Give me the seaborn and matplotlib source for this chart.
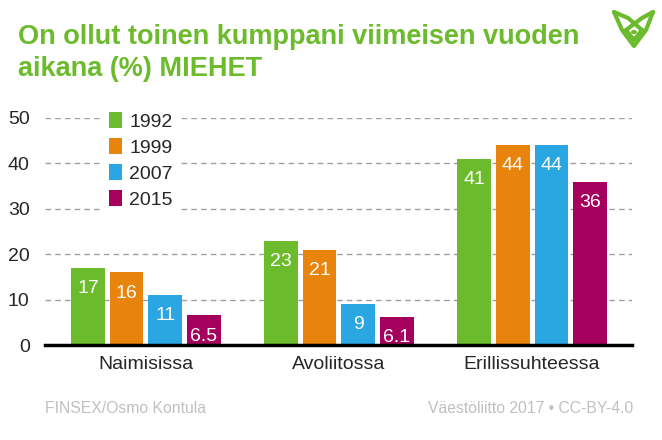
import numpy as np
import pandas as pd
import matplotlib
matplotlib.use("Agg")
import matplotlib.pyplot as plt
from matplotlib.lines import Line2D
from matplotlib.patches import Circle
import seaborn as sns

# data
ryhmat = ["Naimisissa", "Avoliitossa", "Erillissuhteessa"]
vuodet = ["1992", "1999", "2007", "2015"]
arvot_1992 = [17, 23, 41]
arvot_1999 = [16, 21, 44]
arvot_2007 = [11, 9, 44]
arvot_2015 = [6.5, 6.1, 36]
varit = ["#6CBB2D", "#E8830B", "#2AA6E3", "#A5005E"]
vihrea = "#6CBB2D"

df = pd.DataFrame({
    "ryhma": ryhmat * 4,
    "vuosi": sum([[v] * 3 for v in vuodet], []),
    "arvo": arvot_1992 + arvot_1999 + arvot_2007 + arvot_2015,
})

sns.set_style("white")
plt.rcParams["font.family"] = ["Liberation Sans", "DejaVu Sans"]

fig = plt.figure(figsize=(6.62, 4.40), dpi=100)
ax = fig.add_axes([45/662, 1-345/440, (632-45)/662, (345-118)/440])

sns.barplot(data=df, x="ryhma", y="arvo", hue="vuosi", hue_order=vuodet,
            palette=varit, width=0.8, gap=0.13, saturation=1, ax=ax,
            edgecolor="none", linewidth=0, zorder=3)

for cont in ax.containers:
    labs = [f"{b.get_height():g}" for b in cont]
    ax.bar_label(cont, labels=labs, label_type="edge", padding=-21,
                 color="white", fontsize=14)

ax.set_ylim(0, 50)
ax.set_xlim(-0.523, 2.518)
ax.set_yticks([0, 10, 20, 30, 40, 50])
ax.yaxis.grid(True, linestyle=(0, (4, 3)), color="#A0A0A0", linewidth=1)
ax.set_axisbelow(True)
for s in ["top", "right", "left"]:
    ax.spines[s].set_visible(False)
ax.spines["bottom"].set_linewidth(2.5)
ax.spines["bottom"].set_color("black")
ax.spines["bottom"].set_zorder(5)
ax.tick_params(axis="y", length=0, labelsize=14, pad=11)
ax.tick_params(axis="x", length=0, labelsize=14, pad=8)
ax.set_xlabel("")
ax.set_ylabel("")

leg = ax.legend(loc="upper left", bbox_to_anchor=(58/587, 1.05), frameon=True,
                fontsize=14, handlelength=0.7, handleheight=0.85,
                handletextpad=0.35, labelspacing=0.38, borderpad=0.3,
                borderaxespad=0)
leg.get_frame().set_facecolor("white")
leg.get_frame().set_edgecolor("none")
leg.get_frame().set_alpha(1)
leg.set_zorder(6)

fig.text(18/662, 1-44/440, "On ollut toinen kumppani viimeisen vuoden",
         color=vihrea, fontsize=19.5, fontweight="bold", va="baseline", ha="left")
fig.text(18/662, 1-76/440, "aikana (%) MIEHET",
         color=vihrea, fontsize=19.5, fontweight="bold", va="baseline", ha="left")

fig.text(45/662, 1-408/440, "FINSEX/Osmo Kontula", color="#C0C0C0",
         fontsize=11.3, va="center", ha="left")
fig.text(633/662, 1-408/440, "Väestöliitto 2017 \u2022 CC-BY-4.0", color="#C0C0C0",
         fontsize=11.3, va="center", ha="right")

# logo
def px(x, y):
    return x/662, 1-y/440
lw = 3
for pts in [[(614, 12), (622, 30), (634, 46), (646, 30), (653, 12)],
            [(614, 12), (628, 18), (642, 30)],
            [(653, 12), (642, 18), (626, 30)],
            [(626, 30), (634, 40), (642, 30)]]:
    xs, ys = zip(*[px(a, b) for a, b in pts])
    fig.add_artist(Line2D(xs, ys, color=vihrea, lw=lw, solid_capstyle="round",
                          solid_joinstyle="round"))
cx, cy = px(634, 32)
fig.add_artist(Circle((cx, cy), 2.2/662, color=vihrea, transform=fig.transFigure))

fig.savefig("out.png", dpi=100)
